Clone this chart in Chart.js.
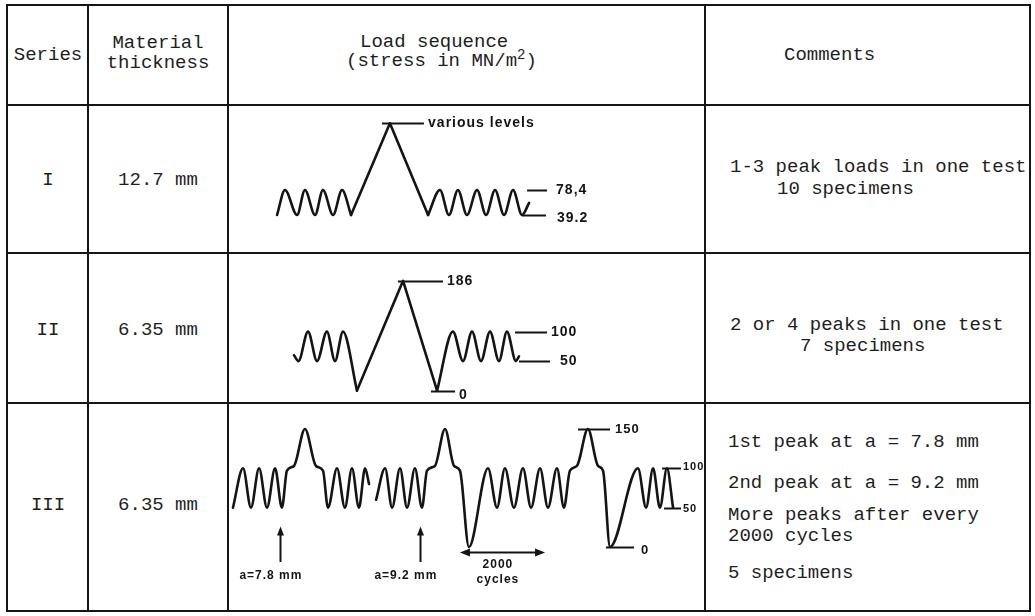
<!DOCTYPE html>
<html lang="en">
<head>
<meta charset="utf-8">
<title>Load sequences</title>
<script src="https://cdn.jsdelivr.net/npm/chart.js@4.4.1/dist/chart.umd.min.js"></script>
<style>
  html, body { margin: 0; background: #fff; }
  #sheet { position: relative; width: 1035px; height: 616px; overflow: hidden;
           font-family: "Liberation Mono", "DejaVu Sans Mono", monospace; font-size: 19px; color: #1e1e1e; }
  .rule { position: absolute; background: #161616; }
  .txt { position: absolute; white-space: pre; line-height: 22px; }
  .mid { text-align: center; }
  .wave { position: absolute; left: 229px; }
  sup { font-size: 14px; line-height: 0; vertical-align: 7px; }
</style>
</head>
<body>
<div id="sheet">
  <!-- header -->
  <div class="txt mid" style="left:8px; width:80px; top:44px">Series</div>
  <div class="txt mid" style="left:89px; width:138px; top:33px; line-height:20px">Material
thickness</div>
  <div class="txt" style="left:360px; top:31px">Load sequence</div>
  <div class="txt" style="left:346px; top:50px">(stress in MN/m<sup>2</sup>)</div>
  <div class="txt" style="left:784px; top:44px">Comments</div>

  <!-- series I -->
  <div class="txt mid" style="left:8px; width:80px; top:169px">I</div>
  <div class="txt mid" style="left:89px; width:138px; top:169px">12.7 mm</div>
  <div class="txt" style="left:730px; top:156px">1-3 peak loads in one test</div>
  <div class="txt" style="left:777px; top:178px">10 specimens</div>

  <!-- series II -->
  <div class="txt mid" style="left:8px; width:80px; top:319px">II</div>
  <div class="txt mid" style="left:89px; width:138px; top:319px">6.35 mm</div>
  <div class="txt" style="left:730px; top:314px">2 or 4 peaks in one test</div>
  <div class="txt" style="left:800px; top:335px">7 specimens</div>

  <!-- series III -->
  <div class="txt mid" style="left:8px; width:80px; top:494px">III</div>
  <div class="txt mid" style="left:89px; width:138px; top:494px">6.35 mm</div>
  <div class="txt" style="left:728px; top:431px">1st peak at a = 7.8 mm</div>
  <div class="txt" style="left:728px; top:472px">2nd peak at a = 9.2 mm</div>
  <div class="txt" style="left:728px; top:504px">More peaks after every</div>
  <div class="txt" style="left:728px; top:525px">2000 cycles</div>
  <div class="txt" style="left:728px; top:562px">5 specimens</div>

  <!-- load sequence sketches -->
  <canvas id="seqI" class="wave" width="475" height="147" style="top:106px"></canvas>
  <canvas id="seqII" class="wave" width="475" height="149" style="top:254px"></canvas>
  <canvas id="seqIII" class="wave" width="475" height="207" style="top:404px"></canvas>

  <!-- table rules -->
  <div class="rule" style="left:6px; top:4px; width:1025px; height:2px"></div>
  <div class="rule" style="left:6px; top:104px; width:1025px; height:2px"></div>
  <div class="rule" style="left:6px; top:252px; width:1025px; height:2px"></div>
  <div class="rule" style="left:6px; top:402px; width:1025px; height:2px"></div>
  <div class="rule" style="left:6px; top:610px; width:1025px; height:2px"></div>
  <div class="rule" style="left:6px; top:4px; width:2px; height:608px"></div>
  <div class="rule" style="left:87px; top:4px; width:2px; height:608px"></div>
  <div class="rule" style="left:227px; top:4px; width:2px; height:608px"></div>
  <div class="rule" style="left:704px; top:4px; width:2px; height:608px"></div>
  <div class="rule" style="left:1029px; top:4px; width:2px; height:608px"></div>
</div>

<script>
(function () {
  "use strict";

  // Time runs in load cycles (t), stress in MN/m2 (s). Turning points.

  // ── Series I: 39.2 / 78.4 cycles around one high peak ──────────
  var I_PRE_T = [2.67, 3.11, 3.78, 4.22, 4.78, 5.22, 5.78, 6.28, 6.78];
  var I_PRE_S = [39.2, 78.4, 39.2, 78.4, 39.2, 78.4, 39.2, 78.4, 39.2];
  var I_PEAK_T = [6.78, 8.94, 11.06];
  var I_PEAK_S = [39.2, 183, 39.2];
  var I_POST_T = [11.06, 11.72, 12.22, 12.72, 13.22, 13.78, 14.28, 14.78, 15.28, 15.78, 16.28, 16.67];
  var I_POST_S = [39.2, 78.4, 39.2, 78.4, 39.2, 78.4, 39.2, 78.4, 39.2, 78.4, 39.2, 58];
  var I_LEVELS = [183, 78.4, 39.2];
  var I_LEVEL_LABELS = ["various levels", "78,4", "39.2"];

  // ── Series II: 50 / 100 cycles, peak 186 down to 0 ─────────────
  var II_PRE_T = [3.61, 3.86, 4.39, 4.89, 5.44, 5.89, 6.33, 7.11];
  var II_PRE_S = [60, 50, 100, 50, 100, 50, 100, 0];
  var II_PEAK_T = [7.11, 9.67, 11.56];
  var II_PEAK_S = [0, 186, 0];
  var II_POST_T = [11.56, 12.44, 13.0, 13.5, 14.0, 14.5, 15.0, 15.44, 15.94, 16.11];
  var II_POST_S = [0, 100, 50, 100, 50, 100, 50, 100, 50, 58];
  var II_LEVELS = [186, 100, 50, 0];
  var II_LEVEL_LABELS = ["186", "100", "50", "0"];

  // ── Series III: 50 / 100 cycles, 150 peaks, underloads to 0 ────
  var III_A_T = [0.22, 0.78, 1.22, 1.67, 2.11, 2.56, 2.94, 3.22, 3.61, 4.22, 4.83, 5.22, 5.5,
                 6.0, 6.44, 6.83, 7.22, 7.56, 7.78];
  var III_A_S = [50, 100, 50, 100, 50, 100, 50, 97, 103, 150, 103, 97, 50,
                 100, 50, 100, 50, 100, 80];
  var III_B_T = [8.17, 8.67, 9.06, 9.5, 9.89, 10.33, 10.72,
                 11.0, 11.44, 12.0, 12.5, 12.83, 13.33,
                 14.39, 14.89, 15.33, 15.83, 16.33, 16.78, 17.28, 17.72, 18.22, 18.61,
                 18.94, 19.33, 19.94, 20.5, 20.78, 21.17,
                 22.72, 23.17, 23.56, 23.94, 24.33, 24.67];
  var III_B_S = [60, 100, 50, 100, 50, 100, 50,
                 97, 103, 150, 103, 97, 0,
                 100, 50, 100, 50, 100, 50, 100, 50, 100, 50,
                 97, 103, 150, 103, 97, 0,
                 100, 50, 100, 50, 100, 50];
  var III_LEVELS = [150, 100, 50, 0];
  var III_LEVEL_LABELS = ["150", "100", "50", "0"];
  var III_MARK_T = [2.83, 10.61];
  var III_MARK_LABELS = ["a=7.8 mm", "a=9.2 mm"];
  var III_SPAN_T = [12.83, 17.56];
  var III_SPAN_LABELS = ["2000", "cycles"];

  // ── Drawing setup ──────────────────────────────────────────────
  var INK = "#141414";
  var T_MAX = 475 / 18;
  var LABEL_FONT = "bold 14px 'Liberation Sans', Arial, sans-serif";
  var SMALL_FONT = "bold 11px 'Liberation Sans', Arial, sans-serif";
  var MARK_FONT = "bold 12px 'Liberation Sans', Arial, sans-serif";

  // leader lines beside the sketch: where each level tick starts/ends (cycle units)
  function leaders(levels, labels, spans) {
    return levels.map(function (lv, i) {
      return { level: lv, label: labels[i], from: spans[i][0], to: spans[i][1], at: spans[i][2],
               font: spans[i][3] || LABEL_FONT, dy: spans[i][4] || 0 };
    });
  }

  function sketchNotes(notes) {
    return {
      id: "sketchNotes",
      afterDatasetsDraw: function (chart) {
        var ctx = chart.ctx, x = chart.scales.x, y = chart.scales.y;
        ctx.save();
        ctx.strokeStyle = INK;
        ctx.fillStyle = INK;
        ctx.lineWidth = 2;
        ctx.textBaseline = "middle";

        (notes.leaders || []).forEach(function (l) {
          var py = Math.round(y.getPixelForValue(l.level)) + 0.5;
          ctx.beginPath();
          ctx.moveTo(x.getPixelForValue(l.from), py);
          ctx.lineTo(x.getPixelForValue(l.to), py);
          ctx.stroke();
          ctx.font = l.font;
          ctx.letterSpacing = "1px";
          ctx.textAlign = "left";
          ctx.fillText(l.label, x.getPixelForValue(l.at), py + l.dy);
        });

        (notes.marks || []).forEach(function (m) {
          var px = Math.round(x.getPixelForValue(m.t)) + 0.5;
          var top = y.getPixelForValue(m.to), bot = y.getPixelForValue(m.from);
          ctx.beginPath();
          ctx.moveTo(px, bot);
          ctx.lineTo(px, top + 6);
          ctx.stroke();
          ctx.beginPath();
          ctx.moveTo(px, top);
          ctx.lineTo(px - 3.5, top + 9);
          ctx.lineTo(px + 3.5, top + 9);
          ctx.closePath();
          ctx.fill();
        });

        (notes.spans || []).forEach(function (s) {
          var py = Math.round(y.getPixelForValue(s.level)) + 0.5;
          var a = x.getPixelForValue(s.from), b = x.getPixelForValue(s.to);
          ctx.beginPath();
          ctx.moveTo(a + 6, py);
          ctx.lineTo(b - 6, py);
          ctx.stroke();
          [[a, 1], [b, -1]].forEach(function (e) {
            ctx.beginPath();
            ctx.moveTo(e[0], py);
            ctx.lineTo(e[0] + e[1] * 10, py - 4);
            ctx.lineTo(e[0] + e[1] * 10, py + 4);
            ctx.closePath();
            ctx.fill();
          });
        });

        (notes.texts || []).forEach(function (t) {
          ctx.font = t.font || MARK_FONT;
          ctx.letterSpacing = "1px";
          ctx.textAlign = "center";
          ctx.fillText(t.text, x.getPixelForValue(t.t), y.getPixelForValue(t.s));
        });
        ctx.restore();
      }
    };
  }

  function series(t, s, smooth) {
    return {
      data: t.map(function (v, i) { return { x: v, y: s[i] }; }),
      borderColor: INK,
      borderWidth: 2.6,
      pointRadius: 0,
      fill: false,
      tension: 0,
      cubicInterpolationMode: smooth ? "monotone" : "default",
      borderJoinStyle: "round",
      borderCapStyle: "round"
    };
  }

  function drawSequence(id, datasets, yMin, yMax, notes) {
    return new Chart(document.getElementById(id), {
      type: "line",
      data: { datasets: datasets },
      options: {
        responsive: false,
        animation: false,
        events: [],
        layout: { padding: 0 },
        plugins: { legend: { display: false }, tooltip: { enabled: false } },
        scales: {
          x: { type: "linear", display: false, min: 0, max: T_MAX },
          y: { type: "linear", display: false, min: yMin, max: yMax }
        }
      },
      plugins: [sketchNotes(notes)]
    });
  }

  // ── Series I ───────────────────────────────────────────────────
  drawSequence("seqI", [
    series(I_PRE_T, I_PRE_S, true),
    series(I_PEAK_T, I_PEAK_S, false),
    series(I_POST_T, I_POST_S, true)
  ], -20.4, 210, {
    leaders: leaders(I_LEVELS, I_LEVEL_LABELS, [
      [8.5, 10.83, 11.06],
      [16.56, 17.67, 18.17],
      [16.28, 17.61, 18.22, null, 3]
    ])
  });

  // ── Series II ──────────────────────────────────────────────────
  drawSequence("seqII", [
    series(II_PRE_T, II_PRE_S, true),
    series(II_PEAK_T, II_PEAK_S, false),
    series(II_POST_T, II_POST_S, true)
  ], -21, 231.5, {
    leaders: leaders(II_LEVELS, II_LEVEL_LABELS, [
      [9.39, 11.89, 12.11],
      [15.89, 17.67, 17.89],
      [16.11, 17.83, 18.39],
      [11.22, 12.56, 12.78, null, 4]
    ])
  });

  // ── Series III ─────────────────────────────────────────────────
  drawSequence("seqIII", [
    series(III_A_T, III_A_S, true),
    series(III_B_T, III_B_S, true)
  ], -81.3, 181.7, {
    leaders: leaders(III_LEVELS, III_LEVEL_LABELS, [
      [19.39, 21.17, 21.44, "bold 13px 'Liberation Sans', Arial, sans-serif"],
      [24.06, 25.11, 25.22, SMALL_FONT, -2],
      [24.17, 25.11, 25.22, SMALL_FONT],
      [20.94, 22.5, 22.89, "bold 13px 'Liberation Sans', Arial, sans-serif", 3]
    ]),
    marks: III_MARK_T.map(function (t) { return { t: t, from: -19, to: 26 }; }),
    spans: [{ from: III_SPAN_T[0], to: III_SPAN_T[1], level: -6 }],
    texts: [
      { text: III_MARK_LABELS[0], t: 2.33, s: -36 },
      { text: III_MARK_LABELS[1], t: 9.83, s: -36 },
      { text: III_SPAN_LABELS[0], t: 14.94, s: -22 },
      { text: III_SPAN_LABELS[1], t: 14.94, s: -42 }
    ]
  });
})();
</script>
</body>
</html>
